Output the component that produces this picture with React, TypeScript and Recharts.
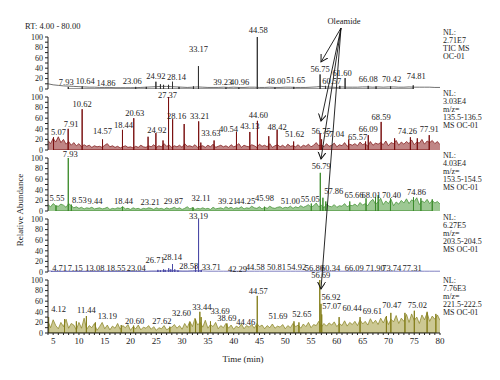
import React from 'react';
import { ComposedChart, Line, Area, XAxis, YAxis, ReferenceDot } from 'recharts';

const serif = "'Liberation Serif', 'DejaVu Serif', serif";

// retention time grid start (min)
const rtStart = 4;

// TIC, one baseline value per minute (4..80)
const ticBase = [
  10, 8, 7, 6, 5.5, 5, 4.5, 4, 3.5, 3.5,
  3, 3, 3, 2.5, 2.5, 2.5, 2.5, 2.5, 3, 3.5,
  4, 4.5, 5, 5, 4.5, 4, 3.5, 3, 3.5, 4,
  3.5, 3, 3, 3, 3.5, 3, 3.5, 3, 3, 3.5,
  3.5, 3, 3, 3.5, 3, 3, 3.5, 3.5, 3, 3,
  3, 3.5, 4, 5, 4, 3.5, 3, 4, 3.5, 3.5,
  3.5, 4, 4, 3.5, 4, 3.5, 4, 4, 3.5, 3.5,
  4, 3.5, 3.5, 3.5, 3.5, 3, 3,
];
const ticPeaks = [
  [7.93, 4], [10.64, 5], [21, 4], [23.06, 4], [24.92, 14], [25.8, 9], [26.4, 8], [27.37, 8],
  [28.14, 14], [29.4, 4], [32.2, 5], [33.17, 44], [38.5, 3], [41, 3], [44.58, 100], [48, 3],
  [51.65, 4], [56.75, 28], [57.8, 6], [60.57, 6], [61.6, 21], [66.08, 6], [67.6, 5], [70.42, 5], [74.81, 7],
];
// label text, label level, horizontal shift
const ticLabels = [
  ['7.93', 13, -2], ['10.64', 15, 3], ['14.86', 12, 2], ['23.06', 15, -14], ['24.92', 25, 0],
  ['28.14', 23, 4], ['33.17', 77, 0], ['39.23', 13, -7], ['40.96', 13, 1], ['44.58', 113, 1],
  ['48.00', 16, 1], ['51.65', 17, 2], ['56.75', 38, 0], ['60.57', 16, -8], ['61.60', 30, -3],
  ['66.08', 19, 0], ['70.42', 19, 1], ['74.81', 25, 3],
];

// m/z 135.5-136.5, one value per half minute
const m135Base = [
  18, 12, 22, 15, 25, 14, 20, 11, 16, 9,
  14, 8, 12, 6, 10, 7, 9, 5, 8, 6,
  7, 5, 9, 12, 6, 8, 5, 7, 4, 6,
  8, 5, 6, 4, 7, 5, 9, 6, 5, 8,
  6, 10, 5, 8, 6, 12, 7, 9, 5, 8,
  6, 9, 5, 12, 7, 8, 6, 10, 5, 7,
  8, 5, 9, 6, 11, 5, 7, 9, 6, 8,
  5, 10, 6, 8, 12, 5, 9, 7, 6, 10,
  8, 5, 11, 7, 9, 6, 12, 5, 8, 10,
  6, 9, 5, 11, 7, 8, 6, 10, 5, 9,
  7, 11, 6, 9, 14, 8, 10, 6, 12, 7,
  9, 13, 6, 10, 8, 14, 7, 11, 9, 12,
  8, 15, 10, 12, 7, 16, 9, 13, 11, 14,
  10, 17, 8, 14, 12, 18, 9, 15, 11, 16,
  12, 19, 10, 15, 13, 20, 11, 17, 14, 18,
  12, 16, 10,
];
const m135Peaks = [
  [5.07, 24], [7.91, 40], [10.62, 77], [14.57, 20], [18.44, 38], [20.63, 60], [23.4, 25],
  [24.92, 32], [26.3, 18], [27.37, 100], [28.16, 58], [30.4, 49], [33.21, 54], [33.63, 14],
  [36.2, 18], [40.54, 34], [43.13, 34], [44.6, 55], [46.8, 26], [48.42, 38], [51.62, 16],
  [56.75, 32], [57.04, 20], [62.3, 20], [65.57, 16], [66.09, 28], [68.59, 53], [71.2, 22],
  [74.26, 24], [75.6, 22], [77.91, 28],
];
const m135Labels = [
  ['5.07', 34, 5], ['7.91', 49, 3], ['10.62', 87, 0], ['14.57', 36, 0], ['18.44', 47, 1],
  ['20.63', 70, 1], ['24.92', 38, 1], ['27.37', 104, -1], ['28.16', 64, 4], ['33.21', 64, 1],
  ['33.63', 32, 10], ['40.54', 40, -8], ['43.13', 45, 0], ['44.60', 66, 1], ['48.42', 43, 0],
  ['51.62', 30, 1], ['56.75', 36, 1], ['57.04', 30, 13], ['65.57', 24, -8], ['66.09', 40, 0],
  ['68.59', 62, 0], ['74.26', 36, -3], ['77.91', 40, 0],
];

// m/z 153.5-154.5
const m153Base = [
  12, 8, 14, 10, 9, 13, 11, 7, 14, 10,
  6, 8, 5, 7, 4, 6, 5, 7, 4, 5,
  6, 4, 5, 7, 3, 5, 4, 6, 5, 8,
  4, 5, 3, 6, 4, 5, 3, 5, 4, 6,
  5, 3, 6, 4, 5, 3, 6, 4, 5, 7,
  4, 6, 3, 5, 8, 4, 6, 3, 5, 4,
  6, 4, 5, 3, 7, 4, 5, 6, 4, 8,
  5, 7, 4, 6, 5, 8, 4, 6, 5, 9,
  6, 5, 8, 4, 7, 5, 9, 6, 5, 7,
  8, 5, 7, 6, 9, 5, 8, 6, 10, 7,
  9, 12, 7, 10, 15, 8, 11, 6, 13, 9,
  8, 12, 7, 10, 9, 14, 8, 11, 10, 13,
  9, 16, 11, 14, 10, 18, 22, 13, 17, 24,
  12, 19, 14, 22, 10, 17, 13, 20, 15, 23,
  14, 21, 18, 25, 12, 19, 16, 22, 14, 20,
  15, 18, 13,
];
const m153Peaks = [
  [5.55, 10], [7.93, 100], [8.53, 12], [18.44, 8], [32.11, 7], [45.98, 8], [55.05, 14],
  [56.79, 72], [57.3, 25], [57.86, 18], [62.5, 18], [65.66, 24], [67.5, 26], [68.01, 30],
  [70.4, 24], [74.86, 26], [76.3, 24], [78.5, 22],
];
const m153Labels = [
  ['5.55', 24, 1], ['7.93', 107, 2], ['8.53', 20, 8], ['9.44', 18, 19], ['18.44', 18, 1],
  ['23.21', 17, 3], ['29.87', 18, -8], ['32.11', 24, 8], ['39.21', 18, -2], ['44.25', 18, -10],
  ['45.98', 24, 0], ['51.00', 18, 0], ['55.05', 22, -1], ['56.79', 85, 1], ['57.86', 37, 8],
  ['65.66', 31, -12], ['68.01', 31, -7], ['70.40', 31, 1], ['74.86', 35, 3],
];

// m/z 203.5-204.5, one value per minute
const m203Base = [
  2, 1.5, 1.5, 1.5, 1.5, 1.5, 1.5, 1.5, 1.5, 1.5,
  1.5, 1.5, 1.5, 1.5, 1.5, 1.5, 1.5, 1.5, 1.5, 1.5,
  2, 2, 2.5, 2.5, 3, 2.5, 2, 2, 2.5, 3,
  2, 1.5, 1.5, 1.5, 1.5, 1.5, 1.5, 1.5, 1.5, 1.5,
  1.5, 1.5, 1.5, 1.5, 1.5, 1.5, 1.5, 1.5, 1.5, 1.5,
  1.5, 1.5, 2, 1.5, 1.5, 1.5, 1.5, 1.5, 1.5, 1.5,
  1.5, 1.5, 1.5, 1.5, 1.5, 1.5, 1.5, 1.5, 1.5, 1.5,
  1.5, 1.5, 1.5, 1.5, 1.5, 1.5, 1.5,
];
const m203Peaks = [
  [4.71, 1], [25.3, 4], [25.8, 3], [26.4, 5], [26.71, 4], [27.4, 7], [27.8, 5], [28.14, 15],
  [28.58, 5], [29.2, 3], [32.6, 12], [33.19, 100], [33.71, 4],
];
const m203Labels = [
  ['4.71', 8, 8], ['7.15', 8, 11], ['13.08', 7, 0], ['18.55', 7, -7], ['23.04', 7, -10],
  ['26.71', 23, -10], ['28.14', 28, 0], ['28.58', 11, 14], ['33.19', 106, 0], ['33.71', 9, 10],
  ['42.29', 6, -8], ['44.58', 9, -2], ['50.81', 9, -13], ['54.92', 9, -14], ['56.80', 8, -6],
  ['60.34', 8, -8], ['66.09', 8, -14], ['71.90', 8, -23], ['73.74', 8, -16], ['77.31', 7, -14],
];

// m/z 221.5-222.5
const m221Base = [
  22, 10, 25, 14, 8, 20, 12, 26, 9, 18,
  15, 6, 20, 9, 28, 7, 14, 10, 18, 5,
  12, 20, 8, 15, 6, 13, 9, 18, 7, 14,
  10, 16, 5, 12, 8, 15, 6, 11, 9, 14,
  7, 12, 5, 10, 8, 14, 6, 9, 11, 16,
  9, 14, 7, 18, 10, 22, 12, 28, 15, 20,
  11, 24, 9, 16, 12, 20, 8, 14, 10, 18,
  9, 15, 7, 13, 10, 17, 8, 14, 11, 16,
  9, 18, 12, 15, 8, 14, 10, 17, 9, 13,
  11, 16, 8, 14, 10, 18, 12, 15, 9, 17,
  12, 20, 10, 16, 14, 22, 11, 18, 13, 19,
  15, 21, 12, 18, 14, 23, 13, 20, 16, 22,
  14, 25, 17, 22, 15, 27, 18, 24, 16, 28,
  19, 30, 16, 26, 21, 33, 18, 28, 22, 35,
  20, 36, 24, 30, 18, 34, 25, 38, 22, 32,
  26, 34, 24,
];
const m221Peaks = [
  [4.12, 30], [7.2, 26], [9.5, 22], [11.44, 32], [13.19, 20], [18.2, 15], [20.6, 14],
  [27.62, 12], [31.5, 20], [32.6, 26], [33.44, 40], [33.69, 30], [35.5, 22], [38.69, 18],
  [44.46, 14], [44.57, 70], [51.69, 22], [52.65, 20], [56.69, 100], [56.92, 55], [57.07, 35],
  [60.44, 30], [64.5, 30], [69.61, 32], [70.47, 38], [73.2, 38], [75.02, 42], [77.5, 40], [79.2, 36],
];
const m221Labels = [
  ['4.12', 45, 10], ['11.44', 43, 0], ['13.19', 33, 12], ['20.60', 23, 1], ['27.62', 23, -8],
  ['32.60', 38, -14], ['33.44', 50, 2], ['33.69', 42, 19], ['38.69', 28, 0], ['44.46', 21, -11],
  ['44.57', 79, 1], ['51.69', 33, -16], ['52.65', 36, 3], ['56.69', 109, 1], ['56.92', 68, 10],
  ['57.07', 51, 10], ['60.44', 47, 13], ['69.61', 42, -14], ['70.47', 53, 1], ['75.02', 53, 3],
];

const xMajor = [5, 10, 15, 20, 25, 30, 35, 40, 45, 50, 55, 60, 65, 70, 75, 80];
const xMinor = Array.from({ length: 77 }, (_, i) => rtStart + i);
const yTicks = [0, 10, 20, 30, 40, 50, 60, 70, 80, 90, 100];

const panels = [
  { top: 37, ph: 52, base: ticBase, step: 1, peaks: ticPeaks, labels: ticLabels, color: '#333', fill: null, axis: '#8c8c8c', axisW: 2,
    nl: ['NL:', '2.71E7', 'TIC MS', 'OC-01'], nlTop: 32 },
  { top: 97, ph: 53, base: m135Base, step: 0.5, peaks: m135Peaks, labels: m135Labels, color: '#7a1010', fill: '#8c2020', axis: '#3a1a1a', axisW: 1.2,
    nl: ['NL:', '3.03E4', 'm/z=', '135.5-136.5', 'MS OC-01'], nlTop: 93 },
  { top: 158, ph: 53, base: m153Base, step: 0.5, peaks: m153Peaks, labels: m153Labels, color: '#3c8c2c', fill: '#4c9a3a', axis: '#777', axisW: 1.2,
    nl: ['NL:', '4.03E4', 'm/z=', '153.5-154.5', 'MS OC-01'], nlTop: 155 },
  { top: 219, ph: 53, base: m203Base, step: 1, peaks: m203Peaks, labels: m203Labels, color: '#4b4aa6', fill: null, axis: '#6a6a8c', axisW: 2,
    nl: ['NL:', '6.27E5', 'm/z=', '203.5-204.5', 'MS OC-01'], nlTop: 217 },
  { top: 280, ph: 53, base: m221Base, step: 0.5, peaks: m221Peaks, labels: m221Labels, color: '#857f1c', fill: '#a39b3a', axis: '#222', axisW: 1,
    nl: ['NL:', '7.76E3', 'm/z=', '221.5-222.5', 'MS OC-01'], nlTop: 280, last: true },
];

const MT = 14;
const MB = 8;
const XH = 22;

function Panel({ p }: { p: any }) {
  const baseRows = p.base.map((v: number, i: number) => ({ t: rtStart + i * p.step, v }));
  const peakRows = p.peaks.flatMap(([t, h]: number[]) => [{ t, s: 0 }, { t, s: h }, { t, s: 0 }]);
  const height = MT + p.ph + (p.last ? XH : MB);
  return (
    <div style={{ position: 'absolute', left: 0, top: p.top - MT }}>
      <ComposedChart width={500} height={height} margin={{ top: MT, right: 60, bottom: p.last ? 0 : MB, left: 18 }}>
        <XAxis
          dataKey="t"
          type="number"
          domain={[4, 80]}
          allowDataOverflow
          ticks={xMinor}
          interval={0}
          height={p.last ? XH : 0}
          tick={p.last ? { fontSize: 9, fill: '#222', fontFamily: serif } : false}
          tickFormatter={(v: number) => (xMajor.includes(v) ? String(v) : '')}
          tickLine={p.last ? { stroke: '#222' } : false}
          tickSize={2}
          tickMargin={3}
          axisLine={{ stroke: p.axis, strokeWidth: p.axisW }}
        />
        <YAxis
          type="number"
          domain={[0, 100]}
          allowDataOverflow
          ticks={yTicks}
          interval={0}
          width={30}
          tickSize={3}
          tickFormatter={(v: number) => (v % 20 === 0 ? String(v) : '')}
          tick={{ fontSize: 8, fill: '#222', fontFamily: serif }}
          axisLine={{ stroke: '#222' }}
          tickLine={{ stroke: '#222' }}
        />
        <Area
          data={baseRows}
          dataKey="v"
          type="linear"
          stroke={p.color}
          strokeWidth={0.7}
          fill={p.fill || 'none'}
          fillOpacity={p.fill ? 0.55 : 0}
          dot={false}
          activeDot={false}
          isAnimationActive={false}
        />
        <Line
          data={peakRows}
          dataKey="s"
          type="linear"
          stroke={p.color}
          strokeWidth={1}
          dot={false}
          activeDot={false}
          isAnimationActive={false}
        />
        {p.labels.map(([txt, lv, dx]: [string, number, number], i: number) => (
          <ReferenceDot
            key={i}
            x={parseFloat(txt)}
            y={lv}
            r={0}
            ifOverflow="visible"
            shape={(s: any) => (
              <text x={s.cx + dx} y={s.cy} textAnchor="middle" dominantBaseline="central" fontSize={8.5} fontFamily={serif} fill="#222">
                {txt}
              </text>
            )}
          />
        ))}
      </ComposedChart>
    </div>
  );
}

export default function App() {
  const arrowEnds = [[321, 62], [321, 121], [321, 159], [321, 289]];
  return (
    <div style={{ position: 'absolute', left: 0, top: 0, width: 500, height: 380, background: '#fff', fontFamily: serif }}>
      {panels.map((p, i) => (
        <Panel key={i} p={p} />
      ))}
      <svg width={500} height={380} style={{ position: 'absolute', left: 0, top: 0, pointerEvents: 'none' }}>
        <defs>
          <marker id="ah" markerWidth="10" markerHeight="10" refX="7" refY="4" orient="auto" markerUnits="userSpaceOnUse">
            <path d="M0,0 L7,4 L0,8" fill="none" stroke="#111" strokeWidth="1" />
          </marker>
        </defs>
        <text x={25} y={29} fontSize={8.5} fill="#222">RT: 4.00 - 80.00</text>
        <text x={344} y={24} fontSize={8.5} fill="#222" textAnchor="middle">Oleamide</text>
        {arrowEnds.map(([x, y], i) => (
          <line key={i} x1={341} y1={28} x2={x} y2={y} stroke="#111" strokeWidth={0.9} markerEnd="url(#ah)" />
        ))}
        {panels.map((p, i) =>
          p.nl.map((s, j) => (
            <text key={`${i}-${j}`} x={443} y={p.nlTop + j * 8 + 3} fontSize={8} fill="#222">{s}</text>
          ))
        )}
        <text x={0} y={0} fontSize={9} fill="#222" textAnchor="middle" transform="translate(23,210) rotate(-90)">Relative Abundance</text>
        <text x={243} y={362} fontSize={9} fill="#222" textAnchor="middle">Time (min)</text>
      </svg>
    </div>
  );
}
